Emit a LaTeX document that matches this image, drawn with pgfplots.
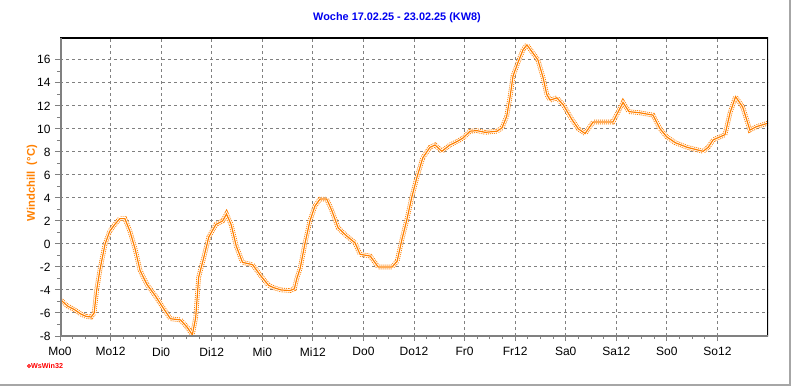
\documentclass[border=0pt]{standalone}
\usepackage{pgfplots}
\pgfplotsset{compat=1.18}
\usepackage{pgfplotstable}
\usepackage{fontspec}
\setmainfont{Liberation Sans}
\definecolor{wcorange}{HTML}{FF8000}
\definecolor{wcblue}{HTML}{0000F0}
\definecolor{gridgray}{HTML}{808080}
\pgfplotstableread{
h v
0 -4.8
1.8 -5.4
3.4 -5.7
5 -6.1
6.2 -6.3
7.4 -6.35
8.1 -6.0
8.7 -4.0
9.5 -2.2
10.7 0.0
11.8 1.1
13 1.7
14.2 2.2
15.4 2.2
16.6 1.1
17.8 -0.4
19 -2.3
20.6 -3.5
22.6 -4.5
24.2 -5.4
26.2 -6.5
28.6 -6.6
30.2 -7.25
31.4 -7.9
32.2 -6.4
32.9 -2.9
34.1 -1.2
35.3 0.6
37 1.7
38.6 2.0
39.5 2.6
40.6 1.7
41.8 -0.15
43.3 -1.6
45.7 -1.8
47.6 -2.75
49.5 -3.6
50.7 -3.8
52.5 -4.0
54.6 -4.05
55.6 -3.9
56.2 -3.0
57 -2.1
58.1 0.0
59.3 2.0
60.5 3.3
61.7 3.9
63.3 3.9
64.5 2.9
66 1.4
68 0.7
70 0.1
71.2 -0.9
73.6 -1.05
75.5 -2.0
78.8 -2.0
80 -1.5
81.2 0.5
82.3 2.1
83.5 4.1
84.7 5.8
86.1 7.5
87.8 8.4
89 8.6
90.6 8.05
92.5 8.6
94.2 8.9
95.6 9.2
97.3 9.8
98.9 9.85
100.9 9.7
103.7 9.8
104.9 10.1
106 11.1
106.8 12.8
107.5 14.6
108.7 15.8
109.9 16.9
110.8 17.3
112 16.7
113.4 16.0
114.6 14.5
115.5 13.0
116.3 12.5
117.9 12.7
119.4 12.1
121.5 10.8
123 10.0
124.6 9.6
126.5 10.6
131.2 10.6
133.6 12.3
135 11.5
137.6 11.4
140.7 11.2
142.4 10.0
144 9.3
146 8.8
148.8 8.4
152.6 8.05
153.8 8.4
155 9.05
157.8 9.5
159 11.4
160.3 12.8
162 11.9
163.7 9.9
165.3 10.2
168 10.5
}\wcdata
\begin{document}
\begin{tikzpicture}
\useasboundingbox[fill=white] (-60bp,-51bp) rectangle (732bp,336bp);
\begin{axis}[
  at={(0,0)}, anchor=south west,
  scale only axis, width=708bp, height=298bp,
  xmin=0, xmax=168, ymin=-8, ymax=17.9,
  xtick={0,12,...,156},
  xticklabels={Mo0,Mo12,Di0,Di12,Mi0,Mi12,Do0,Do12,Fr0,Fr12,Sa0,Sa12,So0,So12},
  ytick={-8,-6,...,16},
  minor x tick num=3, minor y tick num=1,
  tick align=outside, xtick pos=bottom, ytick pos=left,
  major tick length=5bp, minor tick length=3bp,
  tick style={gridgray, line width=1bp},
  grid=major,
  major grid style={gridgray, line width=1bp, dash pattern=on 3bp off 3bp},
  axis line style={draw=none},
  /pgf/number format/assume math mode=true,
  ticklabel style={font=\fontsize{12bp}{14bp}\selectfont},
  xticklabel style={yshift=-3bp},
  yticklabel style={xshift=-1bp},
  title={Woche 17.02.25 - 23.02.25 (KW8)},
  title style={at={(axis description cs:0.476,1.047)}, anchor=center, font=\bfseries\fontsize{10.9bp}{12bp}\selectfont, text=wcblue},
  ylabel={Windchill\ \ (°C)},
  ylabel style={at={(axis description cs:-0.0395,0.513)}, anchor=center, font=\bfseries\fontsize{11.2bp}{12bp}\selectfont, text=wcorange},
  clip=true,
]
\addplot[wcorange, line width=4.6bp, dash pattern=on 1bp off 1bp] table[x=h,y=v]{\wcdata};
\addplot[white, line width=2.8bp] table[x=h,y=v]{\wcdata};
\addplot[wcorange, line width=1.2bp] table[x=h,y=v]{\wcdata};
\draw[black, line width=1.5bp] (rel axis cs:0,1) -- (rel axis cs:1,1) -- (rel axis cs:1,0);
\draw[gridgray, line width=3bp] (rel axis cs:0,1) -- (rel axis cs:0,0) -- (rel axis cs:1,0);
\end{axis}
\draw[gray!70, line width=1.5bp] (-60bp,-49bp) -- (730bp,-49bp) -- (730bp,336bp);
\draw[red, line width=0.9bp] (-31bp,-30bp) circle (1.4bp);
\node[anchor=west, inner sep=0pt, text=red, font=\bfseries\fontsize{7.2bp}{8bp}\selectfont] at (-29bp,-30bp) {WsWin32};
\end{tikzpicture}
\end{document}
